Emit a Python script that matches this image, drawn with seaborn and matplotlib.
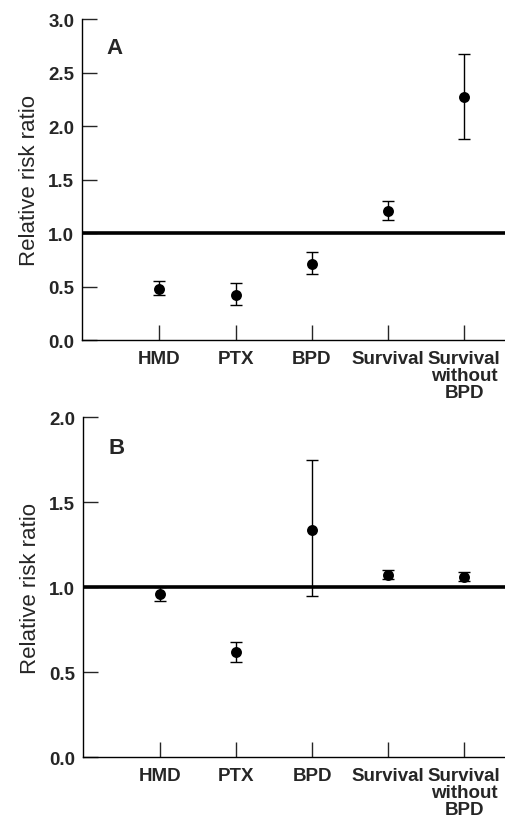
import matplotlib
matplotlib.use("Agg")
import matplotlib.pyplot as plt
import seaborn as sns
import pandas as pd
import numpy as np

categories = ["HMD", "PTX", "BPD", "Survival", "Survival\nwithout\nBPD"]

a_est = [0.48, 0.42, 0.71, 1.21, 2.27]
a_low = [0.42, 0.33, 0.62, 1.12, 1.88]
a_high = [0.55, 0.53, 0.82, 1.30, 2.67]
a_ticks = [0.0, 0.5, 1.0, 1.5, 2.0, 2.5, 3.0]

b_est = [0.96, 0.62, 1.34, 1.07, 1.06]
b_low = [0.92, 0.56, 0.95, 1.05, 1.04]
b_high = [1.00, 0.68, 1.75, 1.10, 1.09]
b_ticks = [0.0, 0.5, 1.0, 1.5, 2.0]

sns.set_theme(style="ticks")
plt.rcParams['font.family'] = ['Liberation Sans', 'DejaVu Sans']

fig = plt.figure(figsize=(5.06, 8.2), dpi=100)
axA = fig.add_axes([0.163, 0.584, 0.837, 0.3915])
axB = fig.add_axes([0.165, 0.0752, 0.835, 0.4146])


def draw(ax, est, low, high, ticks, letter, lx, ly):
    df = pd.DataFrame({"x": np.arange(len(categories)), "est": est,
                       "low": low, "high": high})
    ax.axhline(1.0, color="black", lw=2.6, zorder=1)
    yerr = [df["est"] - df["low"], df["high"] - df["est"]]
    ax.errorbar(df["x"], df["est"], yerr=yerr, fmt="none", ecolor="black",
                elinewidth=1.0, capsize=4.5, capthick=1.0, zorder=2)
    sns.scatterplot(data=df, x="x", y="est", ax=ax, color="black", s=62,
                    edgecolor="black", linewidth=0, zorder=3, legend=False)
    ax.set_xlim(-1.01, 4.55)
    ax.set_ylim(ticks[0], ticks[-1])
    ax.set_yticks(ticks)
    ax.set_yticklabels([f"{t:.1f}" for t in ticks], fontsize=13.5, fontweight="bold")
    ax.set_xticks(df["x"])
    ax.set_xticklabels(categories, fontsize=13.5, fontweight="bold", linespacing=1.0)
    ax.tick_params(axis="y", direction="in", length=11, width=1.0, pad=6)
    ax.tick_params(axis="x", direction="in", length=11, width=1.0, pad=7)
    ax.set_xlabel("")
    ax.set_ylabel("Relative risk ratio", fontsize=16, labelpad=6)
    for s in ["top", "right"]:
        ax.spines[s].set_visible(False)
    for s in ["left", "bottom"]:
        ax.spines[s].set_linewidth(1.0)
        ax.spines[s].set_color("black")
    ax.text(lx, ly, letter, transform=ax.transAxes, fontsize=16,
            fontweight="bold", ha="left", va="center")


draw(axA, a_est, a_low, a_high, a_ticks, "A", 0.057, 0.91)
draw(axB, b_est, b_low, b_high, b_ticks, "B", 0.06, 0.912)

fig.savefig("out.png", dpi=100)
